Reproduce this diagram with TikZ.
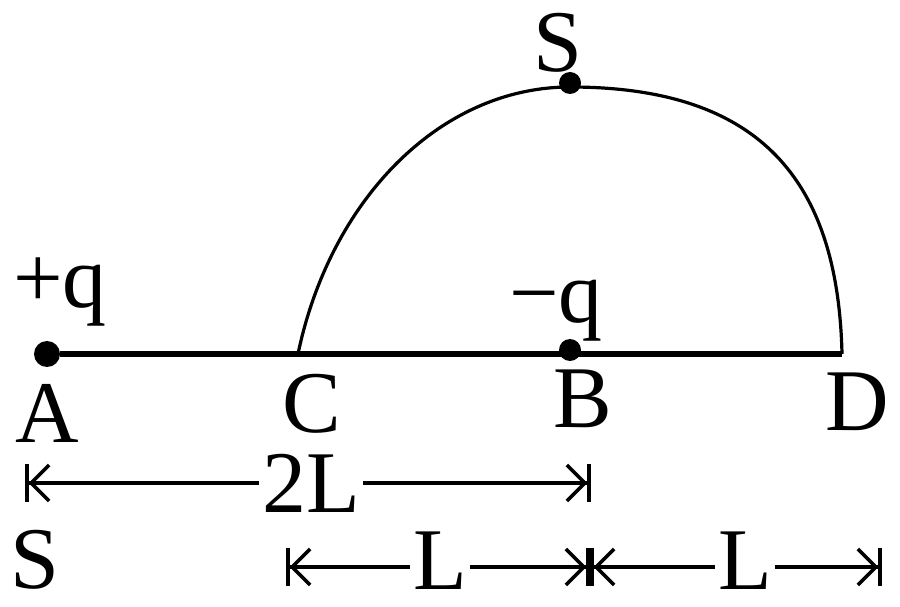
\documentclass[tikz,border=0pt]{standalone}
\usepackage{fontspec}
\setmainfont{Liberation Serif}
\usetikzlibrary{arrows.meta}

\begin{document}
\begin{tikzpicture}[x=0.5pt,y=0.5pt]
        \tikzset{Charge/.style={%
                shape=circle,%
                fill=black,%
                inner sep=0pt,%
                minimum size=11pt,%
            }}
        \tikzset{Letter/.style={%
                inner sep=1.5pt,%
                font=\fontsize{44}{44}\selectfont,%
            }}
        \tikzset{Dim/.style={%
                line width=1.8pt,%
                -{Straight Barb[length=9pt,width=18pt]Bar[width=19pt]},%
            }}
        \useasboundingbox (0,0) rectangle (900,606);

        \node[Charge,minimum size=13pt] (qA) at (47,252) {};
        \node[Charge] (qB) at (570,256) {};
        \node[Charge] (pS) at (570,523) {};
        \coordinate (C) at (298,252);
        \coordinate (D) at (842,252);
        \coordinate (top) at (570,519);

        \path (qA) edge[-,line width=2.6pt] (D);
        \draw[line width=1.6pt] (C) .. controls (330,406) and (440,519) .. (top)
                .. controls (760,519) and (838,426) .. (D);

        \node[Letter,anchor=base] (labS) at (558,534) {S};
        \node[Letter,anchor=base] (labPlus) at (60,299) {+q};
        \node[Letter,anchor=base] (labMinus) at (556,284) {−q};
        \node[Letter,anchor=base] (labA) at (47,163) {A};
        \node[Letter,anchor=base] (labC) at (312,174) {C};
        \node[Letter,anchor=base] (labB) at (583,178) {B};
        \node[Letter,anchor=base] (labD) at (857,176) {D};
        \node[Letter,anchor=base] (labSbot) at (35,18) {S};

        \coordinate (twoLeft) at (25,123);
        \coordinate (twoRight) at (591,123);
        \coordinate (oneLeft) at (286,39);
        \coordinate (oneMid) at (590,39);
        \coordinate (oneRight) at (882,39);

        \node[Letter] (len2L) at (311,123) {2L};
        \node[Letter] (lenL1) at (440,45) {L};
        \node[Letter] (lenL2) at (745,45) {L};

        \path (len2L.west |- twoLeft) edge[Dim] (twoLeft);
        \path (len2L.east |- twoRight) edge[Dim] (twoRight);
        \path (lenL1.west |- oneLeft) edge[Dim] (oneLeft);
        \path (lenL1.east |- oneMid) edge[Dim] (oneMid);
        \path (lenL2.west |- oneMid) edge[Dim] (oneMid);
        \path (lenL2.east |- oneRight) edge[Dim] (oneRight);
\end{tikzpicture}
\end{document}
